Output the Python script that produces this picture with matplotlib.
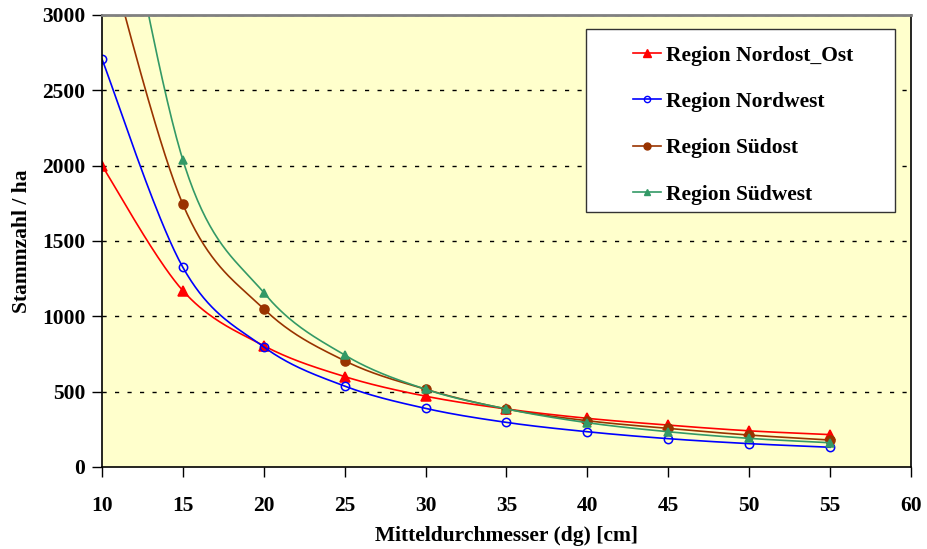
import numpy as np
import matplotlib.pyplot as plt
from matplotlib.patches import Rectangle

# Daten
dg = [10, 15, 20, 25, 30, 35, 40, 45, 50, 55]
nordost_ost = [2000, 1170, 805, 600, 470, 385, 323, 278, 240, 215]
nordwest = [2707, 1325, 797, 537, 389, 296, 234, 188, 155, 131]
suedost = [3560, 1743, 1050, 705, 516, 385, 307, 256, 212, 179]
suedwest = [4600, 2037, 1157, 743, 516, 385, 294, 234, 190, 161]
labels = ['Region Nordost_Ost', 'Region Nordwest', 'Region Südost', 'Region Südwest']


def smooth(x, y, n=40):
    # Excel-artige Glaettung (Catmull-Rom / Bezier)
    x = np.asarray(x, float)
    y = np.asarray(y, float)
    px = np.concatenate([[x[0]], x, [x[-1]]])
    py = np.concatenate([[y[0]], y, [y[-1]]])
    xs, ys = [], []
    t = np.linspace(0, 1, n)
    for i in range(1, len(px) - 2):
        p0, p1, p2, p3 = (np.array([px[k], py[k]]) for k in (i - 1, i, i + 1, i + 2))
        c1 = p1 + (p2 - p0) / 6
        c2 = p2 - (p3 - p1) / 6
        b = ((1 - t) ** 3)[:, None] * p1 + (3 * (1 - t) ** 2 * t)[:, None] * c1 \
            + (3 * (1 - t) * t ** 2)[:, None] * c2 + (t ** 3)[:, None] * p2
        xs.extend(b[:, 0])
        ys.extend(b[:, 1])
    return np.array(xs), np.array(ys)


plt.rcParams['font.family'] = 'Liberation Serif'
plt.rcParams['font.weight'] = 'bold'

fig = plt.figure(figsize=(9.27, 5.49), dpi=100)
ax = fig.add_axes([102 / 927, 1 - 467 / 549, (911 - 102) / 927, (467 - 15) / 549])
ax.set_facecolor('#FFFFCC')

series = [nordost_ost, nordwest, suedost, suedwest]
colors = ['#FF0000', '#0000FF', '#993300', '#339966']
markers = ['^', 'o', 'o', '^']
msizes = [7, 6, 6.5, 6]
fills = [True, False, True, True]

for vals, c, m, ms, f, lab in zip(series, colors, markers, msizes, fills, labels):
    sx, sy = smooth(dg, vals)
    ax.plot(sx, sy, color=c, lw=1.2)
    ax.plot(dg, vals, linestyle='none', marker=m, ms=ms, color=c,
            markerfacecolor=c if f else 'none', markeredgewidth=1.1)
    ax.plot([], [], color=c, lw=1.2, marker=m, ms=ms - 1.5,
            markerfacecolor=c if f else 'none', label=lab)

ax.set_xlim(10, 60)
ax.set_ylim(0, 3000)
ax.set_xticks(range(10, 61, 5))
ax.set_yticks(range(0, 3001, 500))
for yv in range(500, 3001, 500):
    ax.axhline(yv, color='black', lw=1, dashes=(3, 6), zorder=0.5)

ax.tick_params(direction='out', length=7, width=1, labelsize=15.5, pad=5)
ax.tick_params(axis='x', pad=14)
for s in ['left', 'bottom', 'right']:
    ax.spines[s].set_color('black')
    ax.spines[s].set_linewidth(1.2)
ax.spines['top'].set_color('#808080')
ax.spines['top'].set_linewidth(2)

ax.set_xlabel('Mitteldurchmesser (dg) [cm]', fontsize=15.5, fontweight='bold', labelpad=7)
ax.set_ylabel('Stammzahl / ha', fontsize=15.5, fontweight='bold', labelpad=7)

# Legendenrahmen
frame = Rectangle((586 / 927, 1 - 212 / 549), (895 - 586) / 927, (212 - 29) / 549,
                  transform=fig.transFigure, facecolor='white', edgecolor='#333333',
                  lw=1, zorder=4, clip_on=False)
ax.add_patch(frame)

leg = ax.legend(loc='center left', bbox_to_anchor=(633 / 927, 1 - 125 / 549),
                bbox_transform=fig.transFigure, fontsize=15.5, frameon=False,
                handlelength=1.3, handletextpad=0.25, labelspacing=1.22,
                borderpad=0, borderaxespad=0)
leg.set_zorder(5)
for t in leg.get_texts():
    t.set_fontweight('bold')

fig.savefig('out.png', dpi=100)
